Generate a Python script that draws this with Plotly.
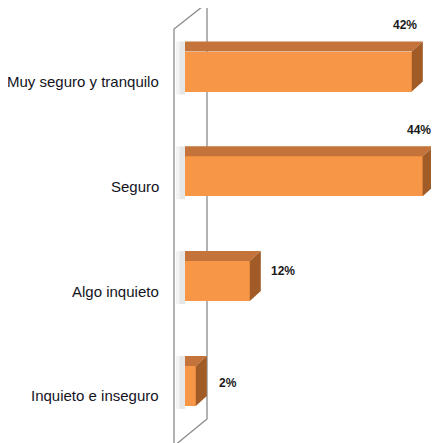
import plotly.graph_objects as go

# answers and shares (%)
categories = ["Muy seguro y tranquilo", "Seguro", "Algo inquieto", "Inquieto e inseguro"]
values = [42, 44, 12, 2]
value_labels = ["42%", "44%", "12%", "2%"]

W, H = 439, 443
PAGE = 8                              # the html body margin moves the figure by 8px
X0_PX, PX_PER_PCT = 185 - PAGE, 5.4   # where 0 % sits and how wide 1 % is
Y0_PX, PX_PER_ROW = 71.5 - PAGE, 104.8  # centre of the first bar and the row spacing

FRONT = "#F79646"
TOP = "#C4733A"
SIDE = "#A15B27"

bar_w = 40 / PX_PER_ROW
dx = 11 / PX_PER_PCT                  # 3d depth, to the right
dy = 10 / PX_PER_ROW                  # 3d depth, upwards
rows = list(range(len(categories)))


def px_x(p):
    return (p - PAGE - X0_PX) / PX_PER_PCT


def px_y(p):
    return (p - PAGE - Y0_PX) / PX_PER_ROW


fig = go.Figure()

# soft shadow to the left of each bar
for i in rows:
    top, bot = i - bar_w / 2 - dy, i + bar_w / 2 + 3 / PX_PER_ROW
    for w, a in [(1.7, 0.06), (1.0, 0.07)]:
        fig.add_trace(go.Scatter(
            x=[-w, 0, 0, -w, -w], y=[top, top, bot, bot, top],
            fill="toself", fillcolor=f"rgba(60,60,60,{a})", line=dict(width=0),
            mode="lines", hoverinfo="skip", showlegend=False))

fig.add_trace(go.Bar(
    x=values, y=rows, orientation="h", width=bar_w,
    marker=dict(color=FRONT, line=dict(width=0)),
    hovertext=categories, showlegend=False))

for i, v in zip(rows, values):
    ft, fb = i - bar_w / 2, i + bar_w / 2
    # top face
    fig.add_trace(go.Scatter(
        x=[0, v, v + dx, 0, 0], y=[ft, ft, ft - dy, ft - dy, ft],
        fill="toself", fillcolor=TOP, line=dict(width=0),
        mode="lines", hoverinfo="skip", showlegend=False))
    # side face
    fig.add_trace(go.Scatter(
        x=[v, v + dx, v + dx, v, v], y=[ft, ft - dy, fb - dy, fb, ft],
        fill="toself", fillcolor=SIDE, line=dict(width=0),
        mode="lines", hoverinfo="skip", showlegend=False))

# back wall of the 3d chart (drawn under the bars)
wall = [(174, 452), (174, 29), (207, 3), (207, 419), (174, 446)]
fig.add_shape(type="path", layer="below",
              path="M " + " L ".join(f"{px_x(a)},{px_y(b)}" for a, b in wall),
              line=dict(color="#8a8a8a", width=1.3))

# category labels
for i, c in zip(rows, categories):
    fig.add_annotation(x=px_x(161), xref="x", y=i, yref="y", yshift=-10,
                       text=c, showarrow=False, xanchor="right",
                       font=dict(family="Liberation Sans, Arial", size=15, color="#14141e"))

# value labels: the two long bars get theirs above, the short ones to the right
label_shift = [(-7, 47), (-4, 46), (33, 10), (32, 3)]
for i, v, t, (sx, sy) in zip(rows, values, value_labels, label_shift):
    fig.add_annotation(x=v, y=i, xshift=sx, yshift=sy, text=f"<b>{t}</b>", showarrow=False,
                       font=dict(family="Liberation Sans, Arial", size=12, color="#1a1a1a"),
                       xanchor="center", yanchor="middle")

fig.update_layout(
    width=W, height=H,
    margin=dict(l=0, r=0, t=0, b=0),
    paper_bgcolor="white", plot_bgcolor="white",
    bargap=0,
    xaxis=dict(range=[px_x(PAGE), px_x(W + PAGE)], visible=False, fixedrange=True),
    yaxis=dict(range=[px_y(H + PAGE), px_y(PAGE)], visible=False, fixedrange=True),
)

fig.write_html("out.html")
